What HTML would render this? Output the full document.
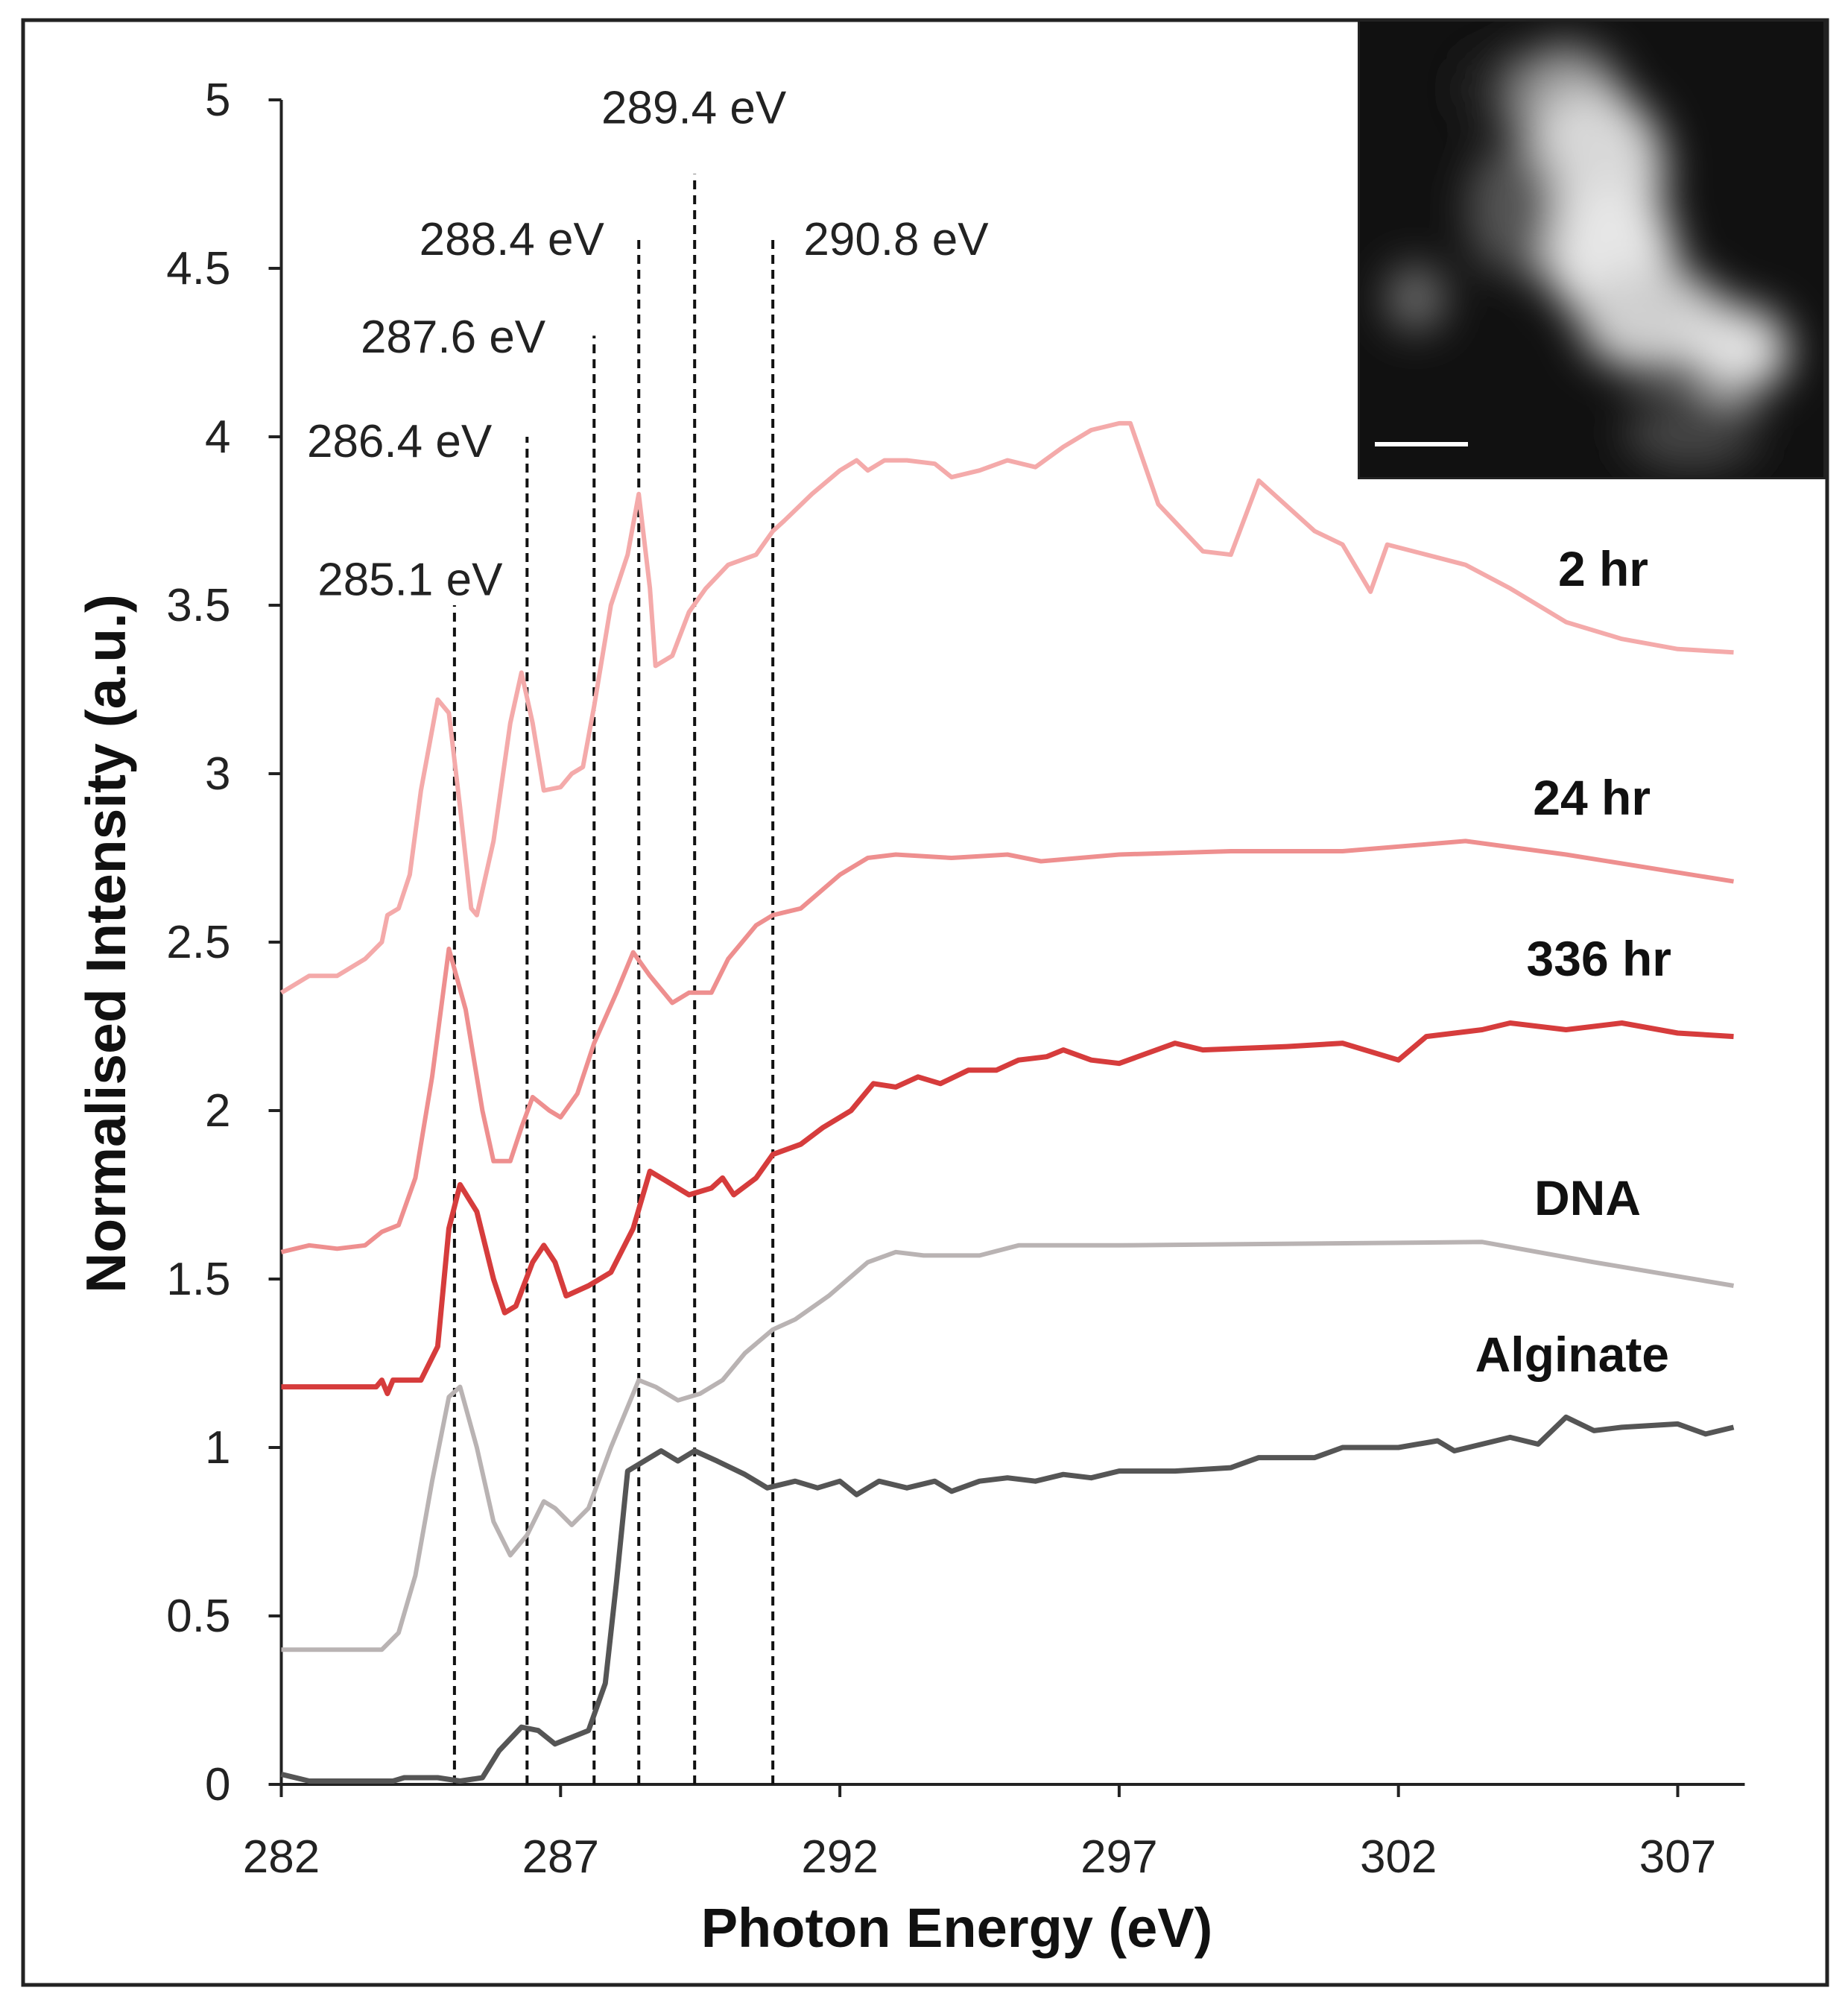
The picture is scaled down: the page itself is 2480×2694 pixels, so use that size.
<!DOCTYPE html>
<html><head><meta charset="utf-8"><style>
html,body{margin:0;padding:0;background:#fff}
svg{display:block}
text{font-family:"Liberation Sans",Arial,sans-serif}
</style></head><body>
<svg id="chart" width="2480" height="2694" viewBox="0 0 2480 2694" xmlns="http://www.w3.org/2000/svg">
<defs>
<filter id="blur" x="-20%" y="-20%" width="140%" height="140%"><feGaussianBlur stdDeviation="28"/></filter>
<clipPath id="insetClip"><rect x="1822" y="26" width="628" height="617"/></clipPath>
</defs>
<rect x="31" y="27" width="2421" height="2636" fill="#fff" stroke="#222" stroke-width="5"/>
<g id="axes"></g>
<g id="refs"></g>
<g id="series"></g>
<g id="labels"></g>
<g clip-path="url(#insetClip)">
<rect x="1822" y="26" width="628" height="617" fill="#111"/>
<g filter="url(#blur)">
<ellipse cx="2100" cy="130" rx="75" ry="70" fill="#9a9a9a"/>
<ellipse cx="2140" cy="230" rx="95" ry="110" fill="#d8d8d8"/>
<ellipse cx="2160" cy="340" rx="90" ry="90" fill="#e6e6e6"/>
<ellipse cx="2220" cy="430" rx="100" ry="70" fill="#cfcfcf"/>
<ellipse cx="2330" cy="470" rx="70" ry="60" fill="#e0e0e0"/>
<ellipse cx="2030" cy="280" rx="60" ry="90" fill="#555"/>
<ellipse cx="1900" cy="400" rx="40" ry="45" fill="#6a6a6a"/>
<ellipse cx="2270" cy="580" rx="90" ry="50" fill="#444"/>
<ellipse cx="2000" cy="120" rx="40" ry="50" fill="#2a2a2a"/>
</g>
<rect x="1822" y="26" width="628" height="617" fill="none" stroke="#222" stroke-width="6"/>
<line x1="1845" y1="596" x2="1970" y2="596" stroke="#fff" stroke-width="6"/>
</g>
</svg>
<script>
const xTicks=[282,287,292,297,302,307];
const yTicks=[0,0.5,1,1.5,2,2.5,3,3.5,4,4.5,5];
const yTickLabels=["0","0.5","1","1.5","2","2.5","3","3.5","4","4.5","5"];
const refEnergies=[285.1,286.4,287.6,288.4,289.4,290.8];
const refTops=[3.5,4.0,4.3,4.6,4.78,4.6];
const refLabels=["285.1 eV","286.4 eV","287.6 eV","288.4 eV","289.4 eV","290.8 eV"];
const refLabelPos=[[282.65,3.53],[282.46,3.94],[283.42,4.25],[284.47,4.54],[287.73,4.93],[291.35,4.54]];

const e2hr=[282,282.5,283,283.5,283.8,283.9,284.1,284.3,284.5,284.8,285.0,285.2,285.4,285.5,285.8,286.1,286.3,286.5,286.7,287,287.2,287.4,287.6,287.9,288.2,288.4,288.6,288.7,289.0,289.3,289.6,290,290.5,290.8,291,291.5,292,292.3,292.5,292.8,293.2,293.7,294,294.5,295,295.5,296,296.5,297,297.2,297.7,298.5,299,299.5,300.5,301,301.5,301.8,302.5,303.2,304,305,306,307,308];
const v2hr=[2.35,2.4,2.4,2.45,2.5,2.58,2.6,2.7,2.95,3.22,3.18,2.9,2.6,2.58,2.8,3.15,3.3,3.15,2.95,2.96,3.0,3.02,3.2,3.5,3.65,3.83,3.55,3.32,3.35,3.48,3.55,3.62,3.65,3.72,3.75,3.83,3.9,3.93,3.9,3.93,3.93,3.92,3.88,3.9,3.93,3.91,3.97,4.02,4.04,4.04,3.8,3.66,3.65,3.87,3.72,3.68,3.54,3.68,3.65,3.62,3.55,3.45,3.4,3.37,3.36];
const e24hr=[282,282.5,283,283.5,283.8,284.1,284.4,284.7,285.0,285.3,285.6,285.8,286.1,286.3,286.5,286.8,287.0,287.3,287.6,288.0,288.3,288.6,289,289.3,289.7,290,290.5,290.8,291.3,292,292.5,293,294,295,295.6,297,299,301,303.2,305,308];
const v24hr=[1.58,1.6,1.59,1.6,1.64,1.66,1.8,2.1,2.48,2.3,2.0,1.85,1.85,1.95,2.04,2.0,1.98,2.05,2.2,2.35,2.47,2.4,2.32,2.35,2.35,2.45,2.55,2.58,2.6,2.7,2.75,2.76,2.75,2.76,2.74,2.76,2.77,2.77,2.8,2.76,2.68];
const e336=[282,283,283.7,283.8,283.9,284,284.5,284.8,285.0,285.2,285.5,285.8,286.0,286.2,286.5,286.7,286.9,287.1,287.5,287.9,288.3,288.6,289,289.3,289.7,289.9,290.1,290.5,290.8,291.3,291.7,292.2,292.6,293.0,293.4,293.8,294.3,294.8,295.2,295.7,296,296.5,297,298,298.5,300,301,302,302.5,303.5,304,305,306,307,308];
const v336=[1.18,1.18,1.18,1.2,1.16,1.2,1.2,1.3,1.65,1.78,1.7,1.5,1.4,1.42,1.55,1.6,1.55,1.45,1.48,1.52,1.65,1.82,1.78,1.75,1.77,1.8,1.75,1.8,1.87,1.9,1.95,2.0,2.08,2.07,2.1,2.08,2.12,2.12,2.15,2.16,2.18,2.15,2.14,2.2,2.18,2.19,2.2,2.15,2.22,2.24,2.26,2.24,2.26,2.23,2.22];
const eDNA=[282,283,283.8,284.1,284.4,284.7,285,285.2,285.5,285.8,286.1,286.4,286.7,286.9,287.2,287.5,287.9,288.4,288.7,289.1,289.5,289.9,290.3,290.8,291.2,291.8,292.5,293,293.5,294.5,295.2,297,303.5,305.5,308];
const vDNA=[0.4,0.4,0.4,0.45,0.62,0.9,1.15,1.18,1.0,0.78,0.68,0.74,0.84,0.82,0.77,0.82,1.0,1.2,1.18,1.14,1.16,1.2,1.28,1.35,1.38,1.45,1.55,1.58,1.57,1.57,1.6,1.6,1.61,1.55,1.48];
const eAlg=[282,282.5,284,284.2,284.8,285.2,285.6,285.9,286.3,286.6,286.9,287.2,287.5,287.8,288.0,288.2,288.5,288.8,289.1,289.4,289.8,290.3,290.7,291.2,291.6,292,292.3,292.7,293.2,293.7,294,294.5,295,295.5,296,296.5,297,298,299,299.5,300.5,301,302,302.7,303,304,304.5,305,305.5,306,307,307.5,308];
const vAlg=[0.03,0.01,0.01,0.02,0.02,0.01,0.02,0.1,0.17,0.16,0.12,0.14,0.16,0.3,0.6,0.93,0.96,0.99,0.96,0.99,0.96,0.92,0.88,0.9,0.88,0.9,0.86,0.9,0.88,0.9,0.87,0.9,0.91,0.9,0.92,0.91,0.93,0.93,0.94,0.97,0.97,1.0,1.0,1.02,0.99,1.03,1.01,1.09,1.05,1.06,1.07,1.04,1.06];
const seriesNames=["2 hr","24 hr","336 hr","DNA","Alginate"];

const NS="http://www.w3.org/2000/svg";
const X0=377.5,PX=74.96,Y0=2394,PY=452;
const xs=e=>X0+(e-282)*PX;
const ys=v=>Y0-v*PY;
function mk(tag,attrs,parent,txt){const el=document.createElementNS(NS,tag);for(const k in attrs)el.setAttribute(k,attrs[k]);if(txt!==undefined)el.textContent=txt;parent.appendChild(el);return el;}
const axes=document.getElementById('axes');
let el=mk('line',{x1:X0,y1:Y0,x2:xs(308.2),y2:Y0,stroke:'#222','stroke-width':4},axes);


el=mk('line',{x1:X0,y1:Y0,x2:X0,y2:ys(5),stroke:'#222','stroke-width':4},axes);


yTicks.forEach((t,i)=>{
  mk('line',{x1:X0-17,y1:ys(t),x2:X0,y2:ys(t),stroke:'#222','stroke-width':4},axes);
  const tx=mk('text',{x:X0-68,y:ys(t)+21,'text-anchor':'end','font-size':62,fill:'#222'},axes,yTickLabels[i]);
  
  
});
xTicks.forEach(t=>{
  mk('line',{x1:xs(t),y1:Y0,x2:xs(t),y2:Y0+17,stroke:'#222','stroke-width':4},axes);
  const tx=mk('text',{x:xs(t),y:2512,'text-anchor':'middle','font-size':62,fill:'#222'},axes,String(t));
  
  
});
el=mk('text',{x:1284,y:2612,'text-anchor':'middle','font-size':74,'font-weight':'bold',fill:'#111'},axes,'Photon Energy (eV)');


el=mk('text',{x:0,y:0,transform:'translate(168,1266) rotate(-90)','text-anchor':'middle','font-size':75,'font-weight':'bold',fill:'#111'},axes,'Normalised Intensity (a.u.)');



const refs=document.getElementById('refs');
refEnergies.forEach((e,i)=>{
  const l=mk('line',{x1:xs(e),y1:Y0,x2:xs(e),y2:ys(refTops[i]),stroke:'#111','stroke-width':4,'stroke-dasharray':'12,8'},refs);
  
  
  const t=mk('text',{x:xs(refLabelPos[i][0]),y:ys(refLabelPos[i][1]),'font-size':62,fill:'#222'},refs,refLabels[i]);
  
  
});

const ser=document.getElementById('series');
const data=[[e2hr,v2hr,'#f4aaaa',6],[e24hr,v24hr,'#ee8f8f',6],[e336,v336,'#d63c3c',7],[eDNA,vDNA,'#b9b3b3',6],[eAlg,vAlg,'#555555',7]];
const lab=document.getElementById('labels');
const labPos=[[2212,786],[2215,1093],[2243,1309],[2202,1630],[2240,1840]];
data.forEach((d,i)=>{
  const pts=d[0].map((e,j)=>xs(e).toFixed(1)+','+ys(d[1][j]).toFixed(1)).join(' ');
  const p=mk('polyline',{points:pts,fill:'none',stroke:d[2],'stroke-width':d[3],'stroke-linejoin':'round'},ser);
  
  
  const t=mk('text',{x:labPos[i][0],y:labPos[i][1],'text-anchor':'end','font-size':66,'font-weight':'bold',fill:'#111'},lab,seriesNames[i]);
  
  
});
</script>
</body></html>
